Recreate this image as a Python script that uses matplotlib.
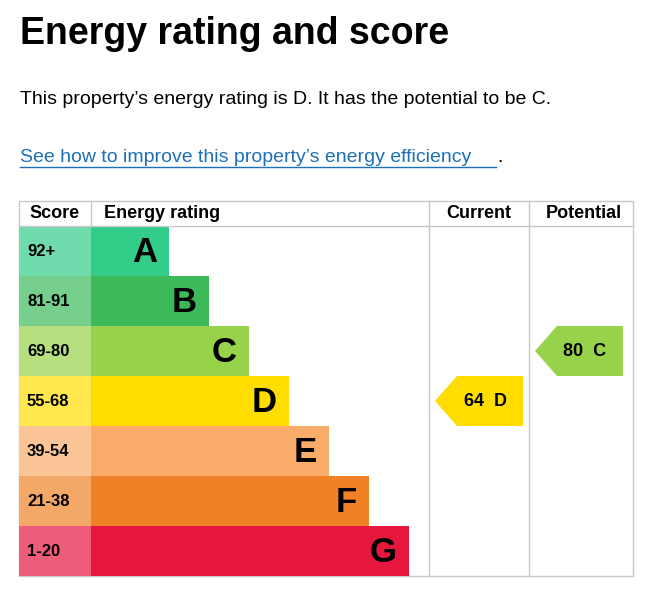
import matplotlib.pyplot as plt
from matplotlib.patches import Rectangle, Polygon
from matplotlib.colors import to_rgb

bands = ["A", "B", "C", "D", "E", "F", "G"]
scores = ["92+", "81-91", "69-80", "55-68", "39-54", "21-38", "1-20"]
colors = ["#33cc88", "#3cba5a", "#97d34a", "#ffdd00", "#f9ab6a", "#ef8226", "#e5173f"]
current_score, current_band = 64, "D"
potential_score, potential_band = 80, "C"

W, H = 657, 593
fig = plt.figure(figsize=(W / 100, H / 100), dpi=100)
ax = fig.add_axes([0, 0, 1, 1])
ax.set_xlim(0, W)
ax.set_ylim(H, 0)
ax.axis("off")
font = "Liberation Sans"

ax.text(20, 34, "Energy rating and score", fontsize=27, fontweight="bold",
        va="center", family=font)
ax.text(20, 100, "This property\u2019s energy rating is D. It has the potential to be C.",
        fontsize=14, va="center", family=font)
ax.text(20, 157, "See how to improve this property\u2019s energy efficiency",
        fontsize=14, va="center", color="#1d70b8", family=font)
ax.plot([20, 496], [167, 167], color="#1d70b8", lw=1)
ax.text(497, 157, ".", fontsize=14, va="center", family=font)

x0, xs, xc, xp, x1 = 19, 91, 429, 529, 633
top, hdr, rowh = 201, 226, 50
gray = "#c8c8c8"
ax.add_patch(Rectangle((x0, top), x1 - x0, hdr - top + rowh * 7, fill=False, ec=gray, lw=1))
ax.plot([x0, x1], [hdr, hdr], color=gray, lw=1)
for x in (xs, xc, xp):
    ax.plot([x, x], [top, hdr], color=gray, lw=1)
for x in (xc, xp):
    ax.plot([x, x], [hdr, hdr + rowh * 7], color=gray, lw=1)
for x, t in [(55, "Score"), (104, "Energy rating"), (479, "Current"), (584, "Potential")]:
    ax.text(x, 214, t, fontsize=13, fontweight="bold", va="center",
            ha="left" if t == "Energy rating" else "center", family=font)

index = {b: i for i, b in enumerate(bands)}
for i, (b, s, c) in enumerate(zip(bands, scores, colors)):
    y = hdr + i * rowh
    light = [v + (1 - v) * 0.3 for v in to_rgb(c)]
    ax.add_patch(Rectangle((x0, y), xs - x0, rowh, color=light, lw=0))
    xe = 169 + 40 * i
    ax.add_patch(Rectangle((xs, y), xe - xs, rowh, color=c, lw=0))
    ax.text(27, y + rowh / 2, s, fontsize=12, fontweight="bold", va="center", family=font)
    ax.text(xe - 12, y + rowh / 2 + 1, b, fontsize=25, fontweight="bold",
            va="center", ha="right", family=font)

def arrow(xl, band, score):
    i = index[band]
    y = hdr + i * rowh
    xr = xl + 88
    ax.add_patch(Polygon([(xl, y + rowh / 2), (xl + 22, y), (xr, y), (xr, y + rowh),
                          (xl + 22, y + rowh)], color=colors[i], lw=0))
    ax.text(xl + 50, y + rowh / 2, f"{score}  {band}", fontsize=13, fontweight="bold",
            va="center", ha="center", family=font)

arrow(435, current_band, current_score)
arrow(535, potential_band, potential_score)

fig.savefig("out.png", dpi=100)
